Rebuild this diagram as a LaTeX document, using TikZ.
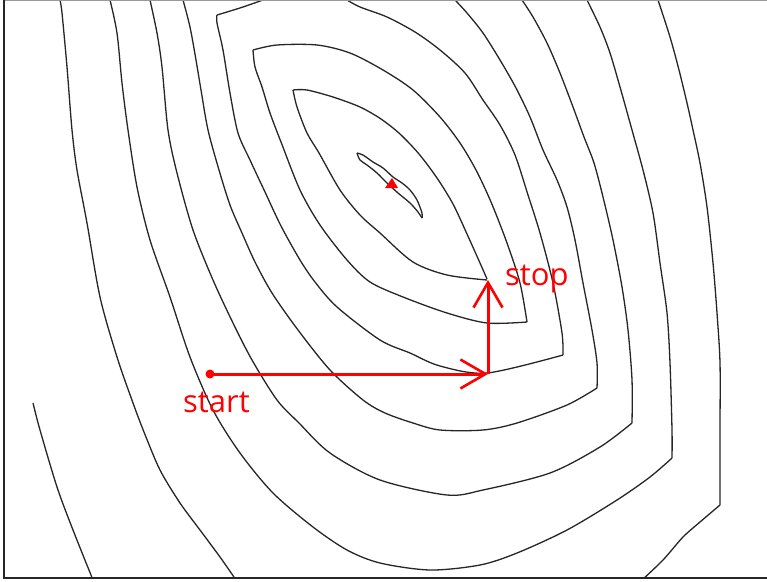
\documentclass[tikz,border=0pt]{standalone}
\usepackage{fontspec}
\newfontfamily\labelfont{Open Sans}
\usetikzlibrary{arrows.meta}
\begin{document}
\begin{tikzpicture}[x=1pt,y=-1pt,
  contour/.style={line width=1.3pt, black!85, line join=round},
  frameline/.style={line width=1.6pt, black!85},
  redarrow/.style={red, line width=3pt, -{Straight Barb[length=25pt,width=29pt,line width=2.6pt]}},
  lbl/.style={text=red, font=\labelfont\fontsize{31}{32}\selectfont, inner sep=0pt}]
\useasboundingbox (0,0) rectangle (767,581);
\fill[white] (0,0) rectangle (767,581);
\begin{scope}
\clip (4,0) rectangle (767,578);
% contour 1
\draw[contour] plot[smooth,tension=0.5] coordinates {(357,153) (363,155) (373,162) (383,168) (393,177) (402,183) (410,190) (417,200) (422,213) (422,218)};
\draw[contour] plot[smooth,tension=0.5] coordinates {(357,153) (360,160) (367,165) (377,173) (387,183) (398,193) (410,203) (418,212) (422,218)};
% contour 2
\draw[contour] plot[smooth,tension=0.5] coordinates {(293,90) (307,90) (333,97) (360,107) (381,119) (400,134) (419,154) (437,178) (453,204) (467,234) (480,263) (487,279)};
\draw[contour] plot[smooth,tension=0.5] coordinates {(293,90) (297,107) (307,133) (319,153) (340,190) (360,215) (380,233) (413,262) (447,275) (487,280)};
% contour 3
\draw[contour] plot[smooth,tension=0.5] coordinates {(253,50) (277,45) (317,45) (350,53) (383,70) (413,90) (440,117) (460,143) (476,170) (491,202) (507,243) (520,283) (527,322)};
\draw[contour] plot[smooth,tension=0.5] coordinates {(253,50) (255,67) (262,87) (270,113) (281,142) (300,190) (320,225) (347,260) (370,282) (403,297) (447,313) (487,323) (527,322)};
% contour 4
\draw[contour] plot[smooth,tension=0.5] coordinates {(263,0) (243,7) (227,12) (217,15)};
\draw[contour] plot[smooth,tension=0.5] coordinates {(217,15) (217,23) (223,50) (230,93) (238,133) (250,160) (265,192) (281,226) (300,260) (315,282) (337,307) (380,340) (410,353) (440,366) (487,373) (563,355)};
\draw[contour] plot[smooth,tension=0.5] coordinates {(563,355) (562,333) (553,283) (540,233) (528,195) (515,155) (500,125) (483,100) (465,73) (440,50) (415,32) (387,17) (360,7) (347,0)};
% contour 5
\draw[contour] plot[smooth,tension=0.5] coordinates {(183,0) (190,27) (196,60) (201,90) (208,130) (219,170) (230,205) (242,233) (255,262) (272,293) (298,330) (330,370) (363,400) (385,413) (413,423) (440,430) (483,430) (517,423) (567,405) (597,388)};
\draw[contour] plot[smooth,tension=0.5] coordinates {(597,388) (597,363) (592,330) (583,283) (575,240) (567,207) (557,180) (543,150) (530,117) (516,88) (500,60) (483,33) (467,13) (455,0)};
% contour 6
\draw[contour] plot[smooth,tension=0.5] coordinates {(150,0) (157,33) (162,67) (168,130) (177,173) (193,230) (213,280) (233,323) (252,360) (277,400) (299,423) (330,453) (380,480) (447,495) (483,490) (550,473) (600,447) (632,423)};
\draw[contour] plot[smooth,tension=0.5] coordinates {(632,423) (632,380) (628,330) (622,287) (613,240) (603,197) (594,163) (584,137) (573,107) (560,73) (547,43) (533,17) (522,0)};
% contour 7
\draw[contour] plot[smooth,tension=0.5] coordinates {(110,0) (117,33) (122,83) (128,130) (137,187) (150,240) (170,297) (190,357) (213,410) (240,453) (273,493) (313,527) (347,550) (380,563) (430,570) (480,565) (517,553) (567,530) (617,500) (650,477) (672,458)};
\draw[contour] plot[smooth,tension=0.5] coordinates {(672,458) (672,430) (670,363) (667,313) (660,263) (653,213) (643,170) (632,130) (620,87) (610,53) (600,27) (587,0)};
% contour 8
\draw[contour] plot[smooth,tension=0.5] coordinates {(60,0) (62,13) (67,67) (72,130) (77,170) (87,223) (100,297) (117,357) (133,403) (144,432) (160,470) (180,503) (200,530) (220,557) (236,580)};
\draw[contour] plot[smooth,tension=0.5] coordinates {(642,580) (663,560) (683,537) (700,522) (720,505)};
\draw[contour] plot[smooth,tension=0.5] coordinates {(720,505) (720,430) (720,363) (717,313) (713,263) (707,207) (700,163) (693,130) (687,103) (679,70) (670,37) (658,0)};
% contour 9
\draw[contour] plot[smooth,tension=0.5] coordinates {(33,403) (40,430) (57,487) (73,530) (93,580)};
\end{scope}
% frame
\draw[line width=1pt, black!40] (4,0.5) -- (767,0.5);
\draw[frameline] (4,0) -- (4,578) -- (767,578);
% path of the search
\coordinate (c) at (488,374);
\coordinate (e) at (488,280);
\node[circle, fill=red, inner sep=0pt, minimum size=9pt] (s) at (210,374) {};
\draw[redarrow] (s.center) -- (c);
\draw[redarrow] (c) -- (e);
\fill[red] (385,188) -- (392,178) -- (398,188) -- cycle;
\node[lbl, anchor=base west] (startlbl) at (183,412) {start};
\node[lbl, anchor=base west] (stoplbl) at (505,285) {stop};
\end{tikzpicture}
\end{document}
